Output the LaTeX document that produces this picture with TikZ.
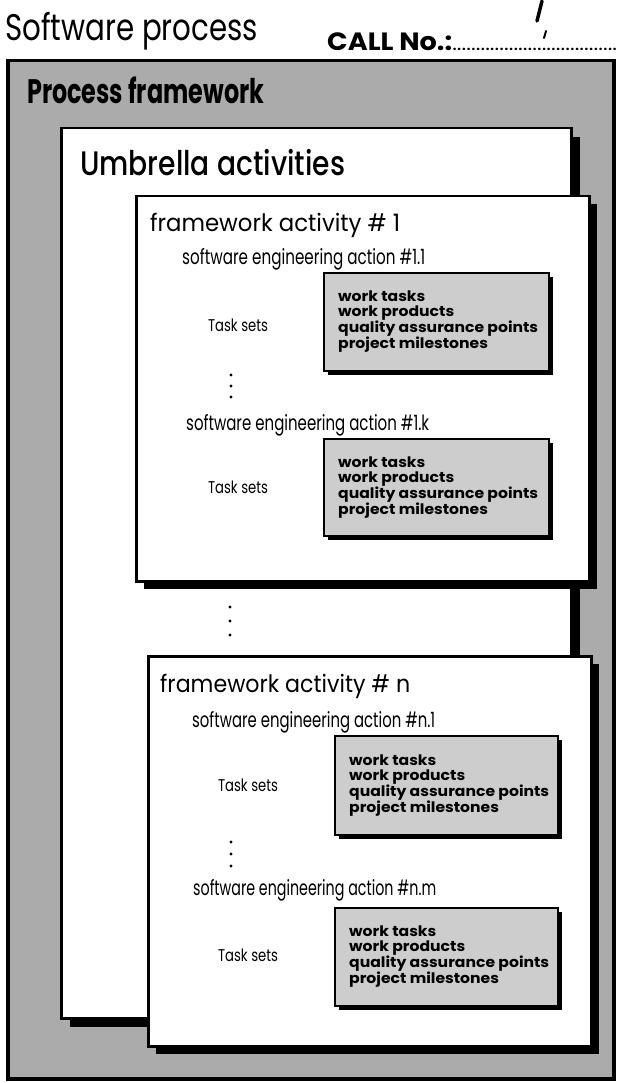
\documentclass[tikz,border=0pt]{standalone}
\usepackage{fontspec}
\usepackage{graphicx}
\setmainfont{Poppins}
\newfontfamily\medf{Poppins Medium}
\usetikzlibrary{shadows}
\definecolor{framegray}{HTML}{ABABAB}
\definecolor{taskgray}{HTML}{CDCDCD}
\newcommand{\hfit}[2]{\resizebox{#1}{\height}{#2}}
\tikzset{
  outerbox/.style={draw=black, line width=3.5pt, fill=framegray, inner sep=0pt},
  whitebox/.style={draw=black, line width=2.5pt, fill=white, inner sep=0pt,
    drop shadow={shadow xshift=8pt, shadow yshift=-8pt, fill=black, opacity=1}},
  umbox/.style={draw=black, line width=2.5pt, fill=white, inner sep=0pt,
    drop shadow={shadow xshift=9pt, shadow yshift=-9pt, fill=black, opacity=1}},
  taskbox/.style={draw=black, line width=2pt, fill=taskgray, inner sep=0pt,
    drop shadow={shadow xshift=4pt, shadow yshift=-4pt, fill=black, opacity=1}},
  tasktext/.style={anchor=west, inner sep=0pt},
  fwtitle/.style={anchor=base west, inner sep=0pt, font=\fontsize{24}{28}\selectfont},
  action/.style={anchor=base west, inner sep=0pt, font=\fontsize{21}{25}\selectfont},
  tasksets/.style={inner sep=0pt, font=\fontsize{17}{20}\selectfont},
  vdot/.style={circle, fill=black, inner sep=0pt, minimum size=3.4pt},
}
\newcommand{\tasklist}{\hfit{200pt}{\bfseries\fontsize{14.5}{14.5}\selectfont\begin{tabular}{@{}l@{}}work tasks\\work products\\quality assurance points\\project milestones\end{tabular}}}
\newcommand{\actiontext}[1]{\hfit{243pt}{software engineering action \##1}}
\newcommand{\tasksetstext}{\hfit{60pt}{Task sets}}
\begin{document}
\begin{tikzpicture}[x=1pt,y=-1pt]
\useasboundingbox (0,0) rectangle (617,1083);
% header
\node[anchor=base west, inner sep=0pt, font=\fontsize{37}{42}\selectfont] (title) at (5,41) {\hfit{253pt}{Software process}};
\node[anchor=base west, inner sep=0pt, font=\bfseries\fontsize{25}{28}\selectfont] (call) at (327,51)
  {\hfit{125pt}{CALL No.:}\hbox to 165pt{\fontsize{13}{13}\selectfont\bfseries\xleaders\hbox to 4.6pt{\hss.\hss}\hfill}};
\coordinate (m1) at (542,1);
\coordinate (m2) at (537,21);
\draw[line width=3.5pt, line cap=round] (m1) -- (m2);
\coordinate (m3) at (546,31);
\coordinate (m4) at (544,38);
\draw[line width=2pt, line cap=round] (m3) -- (m4);
% outer process framework
\node[outerbox, anchor=north west, minimum width=606pt, minimum height=1018pt] (pf) at (6,59) {};
\node[anchor=base west, inner sep=0pt, font=\bfseries\fontsize{34}{38}\selectfont] (pft) at (27,104) {\hfit{237pt}{Process framework}};
% umbrella
\node[umbox, anchor=north west, minimum width=510pt, minimum height=890pt] (ua) at (60,127) {};
\node[anchor=base west, inner sep=0pt, font=\medf\fontsize{34}{38}\selectfont] (uat) at (80,176) {\hfit{265pt}{Umbrella activities}};
% framework 1
\node[whitebox, anchor=north west, minimum width=453pt, minimum height=385pt] (f1) at (135,195) {};
\node[fwtitle] (f1t) at (150,232) {\hfit{250pt}{framework activity \# 1}};
\node[action] (a11) at (182,265) {\actiontext{1.1}};
\node[taskbox, anchor=north west, minimum width=225pt, minimum height=98pt] (t11) at (323,272) {};
\node[tasktext] (t11x) at ([xshift=15pt]t11.west) {\tasklist};
\node[tasksets] (s11) at (238,325) {\tasksetstext};
\node[vdot] (d1a) at (231,375) {};
\node[vdot] (d1b) at (231,386) {};
\node[vdot] (d1c) at (231,397) {};
\node[action] (a1k) at (186,430) {\actiontext{1.k}};
\node[taskbox, anchor=north west, minimum width=225pt, minimum height=97pt] (t1k) at (323,438) {};
\node[tasktext] (t1kx) at ([xshift=15pt]t1k.west) {\tasklist};
\node[tasksets] (s1k) at (238,487) {\tasksetstext};
% between
\node[vdot] (da) at (230,607) {};
\node[vdot] (db) at (230,621) {};
\node[vdot] (dc) at (230,635) {};
% framework n
\node[whitebox, anchor=north west, minimum width=443pt, minimum height=390pt] (fn) at (147,655) {};
\node[fwtitle] (fnt) at (160,692) {\hfit{250pt}{framework activity \# n}};
\node[action] (an1) at (192,727) {\actiontext{n.1}};
\node[taskbox, anchor=north west, minimum width=223pt, minimum height=99pt] (tn1) at (334,735) {};
\node[tasktext] (tn1x) at ([xshift=15pt]tn1.west) {\tasklist};
\node[tasksets] (sn1) at (248,785) {\tasksetstext};
\node[vdot] (dna) at (231,842) {};
\node[vdot] (dnb) at (231,854) {};
\node[vdot] (dnc) at (231,866) {};
\node[action] (anm) at (193,895) {\actiontext{n.m}};
\node[taskbox, anchor=north west, minimum width=223pt, minimum height=98pt] (tnm) at (334,907) {};
\node[tasktext] (tnmx) at ([xshift=15pt]tnm.west) {\tasklist};
\node[tasksets] (snm) at (248,955) {\tasksetstext};
\end{tikzpicture}
\end{document}
